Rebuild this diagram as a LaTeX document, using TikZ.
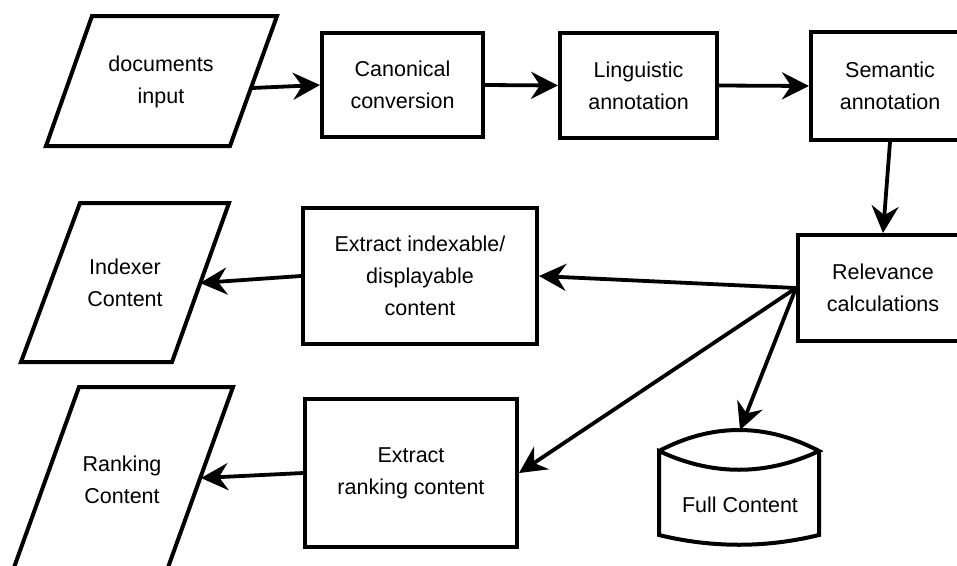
\documentclass[tikz,border=0pt]{standalone}
\usepackage{fontspec}
\setmainfont{Liberation Sans}
\usetikzlibrary{arrows.meta}
\begin{document}
\begin{tikzpicture}[x=1pt,y=-1pt,
  box/.style={draw, line width=4pt, align=center, inner sep=0pt,
    font=\fontsize{21.5}{32}\selectfont},
  lbl/.style={align=center, inner sep=0pt, font=\fontsize{21.5}{32}\selectfont},
  shp/.style={draw, line width=4pt, line join=miter},
  arr/.style={line width=3.8pt, -{Stealth[length=27pt,width=27pt,inset=9pt]}}]
\useasboundingbox (0,0) rectangle (957,565);
\clip (0,0) rectangle (957,565);
% parallelograms
\draw[shp] (92,16) -- (277,16) -- (230,146) -- (46,146) -- cycle;
\node[lbl] (docs) at (161,82) {documents\\input};
\draw[shp] (80,203) -- (229,203) -- (172,362) -- (21,362) -- cycle;
\node[lbl] (idx) at (125,283) {Indexer\\Content};
\draw[shp] (79,387) -- (233,387) -- (166,573) -- (12,573) -- cycle;
\node[lbl] (rnk) at (122,480) {Ranking\\Content};
\coordinate (docsout) at (252,88);
\coordinate (idxin) at (200,283);
\coordinate (rnkin) at (201,478);
% boxes
\node[box, minimum width=161pt, minimum height=104pt] (canon) at (402.5,85) {Canonical\\conversion};
\node[box, minimum width=157pt, minimum height=105pt] (ling) at (638.5,85.5) {Linguistic\\annotation};
\node[box, minimum width=158pt, minimum height=108pt] (sem) at (890,86) {Semantic\\annotation};
\node[box, minimum width=170pt, minimum height=106pt] (rel) at (883,288) {Relevance\\calculations};
\node[box, minimum width=234pt, minimum height=136pt] (exi) at (420,276) {Extract indexable/\\displayable\\content};
\node[box, minimum width=212pt, minimum height=148pt] (exr) at (411,473) {Extract\\ranking content};
% cylinder
\draw[shp] (659,451) .. controls (712,423) and (766,423) .. (819,451)
  .. controls (766,476) and (712,476) .. (659,451) -- (659,535)
  .. controls (712,548) and (766,548) .. (819,535) -- (819,451);
\node[lbl] (full) at (740,505) {Full Content};
\coordinate (fullin) at (740,430);
% connectors
\draw[arr] (docsout) -- (canon.west);
\draw[arr] (canon.east) -- (ling.west);
\draw[arr] (ling.east) -- (sem.west);
\draw[arr] (sem.south) -- (rel.north);
\draw[arr] (rel.west) -- (exi.east);
\draw[arr] (rel.west) -- (exr.east);
\draw[arr] (rel.west) -- (fullin);
\draw[arr] (exi.west) -- (idxin);
\draw[arr] (exr.west) -- (rnkin);
\end{tikzpicture}
\end{document}
